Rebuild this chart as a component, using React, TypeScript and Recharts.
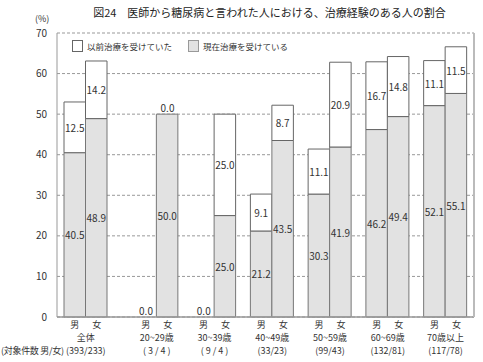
import React from 'react'
import {
  ComposedChart,
  Bar,
  Scatter,
  XAxis,
  YAxis,
  CartesianGrid,
  ReferenceLine,
  LabelList,
} from 'recharts'

const groups = ['全体', '20~29歳', '30~39歳', '40~49歳', '50~59歳', '60~69歳', '70歳以上']
const counts = ['(393/233)', '( 3 / 4 )', '( 9 / 4 )', '(33/23)', '(99/43)', '(132/81)', '(117/78)']
const maleCurrent = [40.5, 0.0, 0.0, 21.2, 30.3, 46.2, 52.1]
const malePrev = [12.5, 0.0, 0.0, 9.1, 11.1, 16.7, 11.1]
const femaleCurrent = [48.9, 50.0, 25.0, 43.5, 41.9, 49.4, 55.1]
const femalePrev = [14.2, 0.0, 25.0, 8.7, 20.9, 14.8, 11.5]
const yTicks = [0, 10, 20, 30, 40, 50, 60, 70]

// first group ("全体") stands a bit apart from the age groups
const FIRST_GAP = 0.227
const pos = groups.map((_, i) => i + (i > 0 ? FIRST_GAP : 0))

const data = groups.map((g, i) => ({
  name: g,
  pos: pos[i],
  mCur: maleCurrent[i],
  mPrev: malePrev[i],
  fCur: femaleCurrent[i],
  fPrev: femalePrev[i],
  mTot: maleCurrent[i] + malePrev[i],
  fTot: femaleCurrent[i] + femalePrev[i],
}))

const FONT = '"Noto Sans CJK JP", "Noto Sans", sans-serif'
const TXT = '#333'
const GREY = '#e2e2e2'
const HALF = 10.75

const SegLabel = (props: any) => {
  const { x, y, width, height, value } = props
  if (!value) return null
  return (
    <text x={x + width / 2} y={y + height / 2} textAnchor="middle" dominantBaseline="central" fontSize={10} fill={TXT} fontFamily={FONT}>
      {Number(value).toFixed(1)}
    </text>
  )
}

// "0.0" written just above the stack when the 以前 part is zero
const zeroMark = (key: 'mPrev' | 'fPrev', dx: number) => (props: any) => {
  const { cx, cy, payload } = props
  if (payload[key] !== 0) return <g />
  return (
    <text x={cx + dx} y={cy - 7} textAnchor="middle" dominantBaseline="central" fontSize={10} fill={TXT} fontFamily={FONT}>
      0.0
    </text>
  )
}

const XTick = (props: any) => {
  const { x, y, payload } = props
  const i = pos.findIndex((p) => Math.abs(p - payload.value) < 1e-6)
  if (i < 0) return null
  return (
    <g fontFamily={FONT} fill={TXT} fontSize={9}>
      <text x={x - 11} y={y + 7.5} textAnchor="middle" dominantBaseline="central">男</text>
      <text x={x + 11} y={y + 7.5} textAnchor="middle" dominantBaseline="central">女</text>
      <text x={x} y={y + 20.5} textAnchor="middle" dominantBaseline="central">{groups[i]}</text>
      <text x={x} y={y + 33.5} textAnchor="middle" dominantBaseline="central">{counts[i]}</text>
    </g>
  )
}

export default function App() {
  return (
    <div style={{ position: 'absolute', left: 0, top: 0, width: 483, height: 362, background: '#fff', fontFamily: FONT }}>
      <ComposedChart
        width={483}
        height={362}
        data={data}
        margin={{ top: 33, right: 9, bottom: 0, left: 0 }}
        barGap={0}
        barCategoryGap={0}
      >
        <CartesianGrid vertical={false} stroke="#999" strokeDasharray="3 2" />
        <XAxis
          dataKey="pos"
          type="number"
          domain={[-0.5, 6.72]}
          ticks={pos}
          allowDataOverflow
          interval={0}
          height={45}
          axisLine={false}
          tickLine={false}
          tickSize={0}
          tickMargin={0}
          tick={<XTick />}
        />
        <YAxis
          domain={[0, 70]}
          ticks={yTicks}
          width={57}
          axisLine={false}
          tickLine={false}
          tickSize={0}
          tickMargin={10}
          tick={{ fontSize: 10, fill: TXT, fontFamily: FONT }}
        />
        <Bar dataKey="mCur" stackId="m" barSize={21.5} fill={GREY} stroke="#777" strokeWidth={1} isAnimationActive={false}>
          <LabelList dataKey="mCur" content={<SegLabel />} />
        </Bar>
        <Bar dataKey="mPrev" stackId="m" barSize={21.5} fill="#fff" stroke="#666" strokeWidth={1} isAnimationActive={false}>
          <LabelList dataKey="mPrev" content={<SegLabel />} />
        </Bar>
        <Bar dataKey="fCur" stackId="f" barSize={21.5} fill={GREY} stroke="#777" strokeWidth={1} isAnimationActive={false}>
          <LabelList dataKey="fCur" content={<SegLabel />} />
        </Bar>
        <Bar dataKey="fPrev" stackId="f" barSize={21.5} fill="#fff" stroke="#666" strokeWidth={1} isAnimationActive={false}>
          <LabelList dataKey="fPrev" content={<SegLabel />} />
        </Bar>
        <ReferenceLine y={0} stroke="#999" strokeWidth={1.5} />
        <ReferenceLine x={-0.5} stroke="#999" strokeWidth={1} />
        <ReferenceLine x={6.72} stroke="#bbb" strokeWidth={2} />
        <Scatter dataKey="mTot" shape={zeroMark('mPrev', -HALF)} legendType="none" isAnimationActive={false} />
        <Scatter dataKey="fTot" shape={zeroMark('fPrev', HALF)} legendType="none" isAnimationActive={false} />
      </ComposedChart>
      <div style={{ position: 'absolute', left: 0, width: 483, top: 4, paddingLeft: 56, boxSizing: 'border-box', textAlign: 'center', fontSize: 11, color: '#222' }}>
        図24　医師から糖尿病と言われた人における、治療経験のある人の割合
      </div>
      <div style={{ position: 'absolute', left: 35, top: 13, fontSize: 9, lineHeight: '12px', color: TXT }}>(%)</div>
      <div style={{ position: 'absolute', left: 1, top: 344, fontSize: 9, color: TXT, letterSpacing: -0.3 }}>(対象件数 男/女)</div>
      <div style={{ position: 'absolute', left: 72, top: 40, display: 'flex', alignItems: 'center', fontSize: 8.5, color: TXT, lineHeight: '12px' }}>
        <span style={{ width: 9, height: 10, border: '1px solid #666', background: '#fff', display: 'inline-block', marginRight: 4 }} />
        <span style={{ marginRight: 16 }}>以前治療を受けていた</span>
        <span style={{ width: 9, height: 10, border: '1px solid #999', background: GREY, display: 'inline-block', marginRight: 4 }} />
        <span>現在治療を受けている</span>
      </div>
    </div>
  )
}
